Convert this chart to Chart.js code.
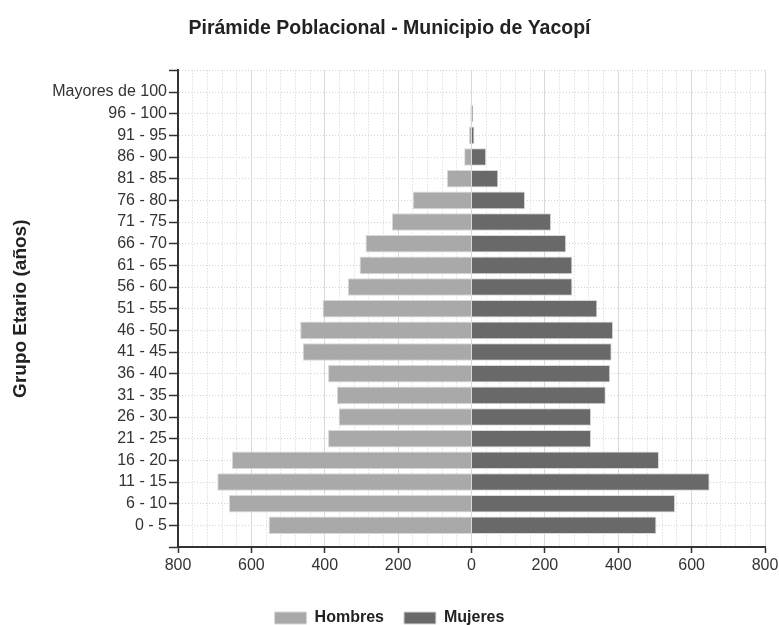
<!DOCTYPE html>
<html>
<head>
<meta charset="utf-8">
<script src="https://cdn.jsdelivr.net/npm/chart.js@4.4.0/dist/chart.umd.min.js"></script>
<style>
  html, body { margin: 0; padding: 0; background: #fff; overflow: hidden; }
  #wrap { position: relative; width: 779px; height: 636px; }
</style>
</head>
<body>
<div id="wrap"><canvas id="chart"></canvas></div>
<script>
  // Grupos etarios, de arriba hacia abajo
  const grupos = ['Mayores de 100', '96 - 100', '91 - 95', '86 - 90', '81 - 85', '76 - 80',
    '71 - 75', '66 - 70', '61 - 65', '56 - 60', '51 - 55', '46 - 50', '41 - 45', '36 - 40',
    '31 - 35', '26 - 30', '21 - 25', '16 - 20', '11 - 15', '6 - 10', '0 - 5'];
  const hombres = [0, 3, 7, 20, 67, 160, 217, 289, 305, 337, 406, 467, 460, 391, 367, 362, 391, 653, 693, 661, 553];
  const mujeres = [0, 4, 8, 40, 73, 146, 217, 258, 275, 275, 343, 386, 382, 378, 366, 326, 326, 511, 649, 555, 504];

  const xMin = -800, xMax = 800, xMajor = 200, xMinor = 40;

  const FONT = "'Liberation Sans', Arial, sans-serif";
  const isMajor = ctx => ctx.tick && ctx.tick.value % xMajor === 0;

  // empty category at each end gives the extra space above / below
  const labels = [''].concat(grupos, ['']);
  const pad = arr => [null].concat(arr, [null]);

  new Chart(document.getElementById('chart'), {
    type: 'bar',
    data: {
      labels: labels,
      datasets: [
        { label: 'Hombres', data: pad(hombres.map(v => -v)), backgroundColor: '#a9a9a9', borderColor: '#d9d9d9', borderWidth: 1 },
        { label: 'Mujeres', data: pad(mujeres), backgroundColor: '#696969', borderColor: '#d9d9d9', borderWidth: 1 }
      ]
    },
    options: {
      indexAxis: 'y',
      responsive: true,
      maintainAspectRatio: false,
      animation: false,
      layout: { padding: 0 },
      datasets: { bar: { barPercentage: 0.9, categoryPercentage: 0.9 } },
      plugins: {
        title: {
          display: true,
          text: 'Pirámide Poblacional - Municipio de Yacopí',
          color: '#222',
          font: { family: FONT, size: 19.5, weight: 'bold' },
          padding: { top: 17, bottom: 30 }
        },
        legend: {
          position: 'bottom',
          labels: { boxWidth: 32, boxHeight: 12, padding: 20, color: '#222', font: { family: FONT, size: 16, weight: 'bold' } }
        },
        tooltip: { enabled: false }
      },
      scales: {
        x: {
          type: 'linear', min: xMin, max: xMax, stacked: true,
          // fixed height, and let the last label run past the right edge like the original
          afterFit: s => { s.height = 43; s.paddingRight = 14; },
          ticks: {
            stepSize: xMinor, maxTicksLimit: 41, autoSkip: false, maxRotation: 0, minRotation: 0,
            padding: 3, color: '#333', font: { family: FONT, size: 16 },
            callback: v => v % xMajor === 0 ? String(Math.abs(v)) : ''
          },
          grid: {
            color: ctx => isMajor(ctx) ? '#d9d9d9' : '#d2d2d2',
            lineWidth: 1,
            tickLength: 6,
            tickWidth: 1.5,
            tickColor: ctx => isMajor(ctx) ? '#333' : 'rgba(0,0,0,0)'
          },
          border: { color: '#333', width: 2, dash: ctx => (ctx.tick && !isMajor(ctx)) ? [1, 2] : [] }
        },
        y: {
          type: 'category', stacked: true, offset: false,
          afterFit: s => { s.width = 178; },
          ticks: { autoSkip: false, padding: 2, color: '#333', font: { family: FONT, size: 16 } },
          grid: { offset: false, color: '#d2d2d2', lineWidth: 1, tickLength: 9, tickWidth: 1.5, tickColor: '#333' },
          border: { color: '#333', width: 2, dash: ctx => ctx.tick ? [1, 2] : [] },
          title: {
            display: true,
            text: 'Grupo Etario (años)',
            color: '#222',
            font: { family: FONT, size: 19, weight: 'bold' },
            padding: { top: 9, bottom: 0 }
          }
        }
      }
    }
  });
</script>
</body>
</html>
